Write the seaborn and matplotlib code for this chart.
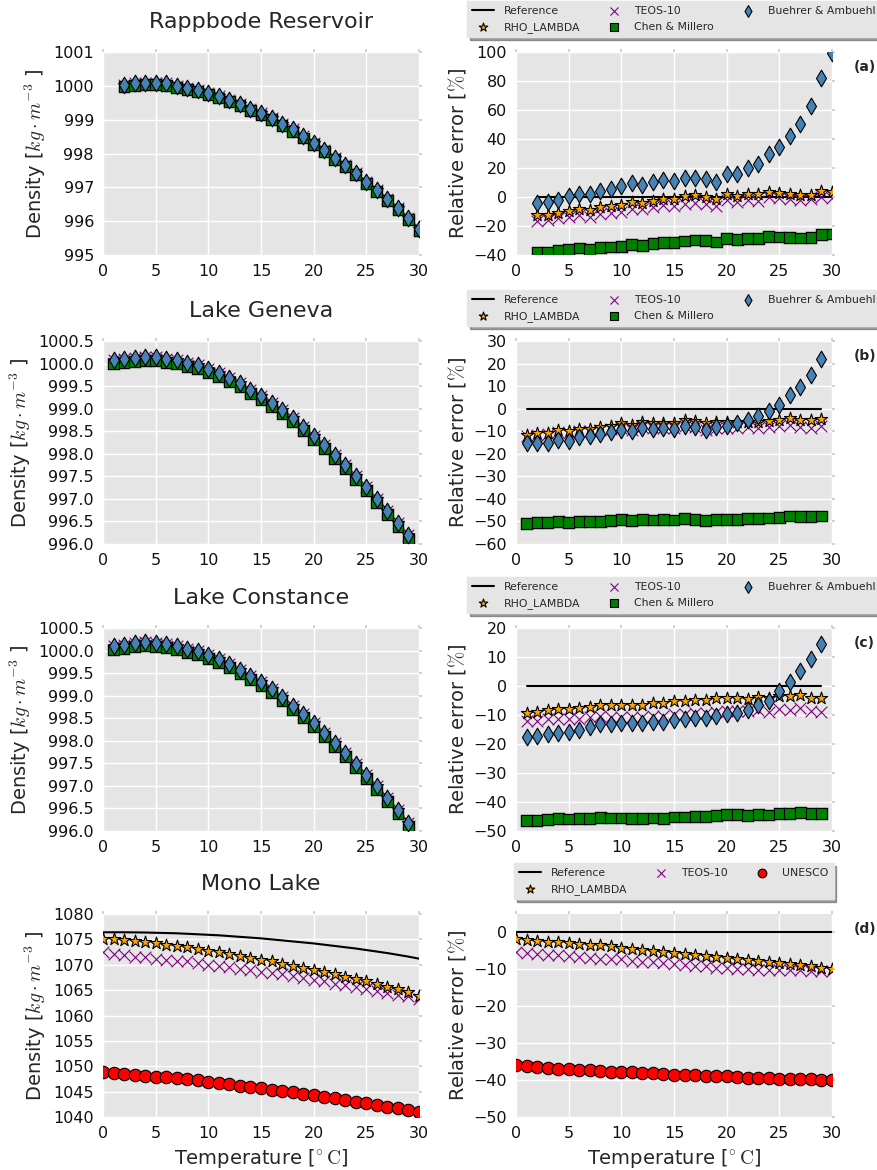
import matplotlib
matplotlib.use("Agg")
import matplotlib.pyplot as plt
import matplotlib.patheffects as pe
import seaborn as sns

# temperature axes [deg C]
temp_rappbode = list(range(2, 31))
temp_lakes = list(range(1, 30))
temp_mono = list(range(0, 31))

# ---- density [kg m-3] ----
# upper cluster (Reference / RHO_LAMBDA / TEOS-10 / Buehrer & Ambuehl overlap)
rappbode_rho = [1000.03, 1000.07, 1000.09, 1000.09, 1000.07, 1000.00, 999.95, 999.88, 999.80, 999.69,
                999.58, 999.47, 999.32, 999.19, 999.05, 998.87, 998.71, 998.51, 998.31, 998.10,
                997.88, 997.66, 997.42, 997.17, 996.92, 996.66, 996.39, 996.09, 995.78]
rappbode_rho_cm = [999.98, 1000.02, 1000.04, 1000.04, 1000.02, 999.95, 999.90, 999.83, 999.75, 999.64,
                   999.53, 999.42, 999.27, 999.14, 999.00, 998.82, 998.66, 998.46, 998.26, 998.05,
                   997.83, 997.61, 997.37, 997.12, 996.87, 996.61, 996.34, 996.04, 995.73]

geneva_rho = [1000.07, 1000.09, 1000.13, 1000.14, 1000.14, 1000.11, 1000.07, 1000.02, 999.96, 999.87,
              999.78, 999.67, 999.56, 999.42, 999.28, 999.13, 998.96, 998.79, 998.60, 998.40,
              998.20, 997.97, 997.75, 997.51, 997.26, 997.00, 996.74, 996.47, 996.19]
geneva_rho_cm = [999.99, 1000.01, 1000.05, 1000.06, 1000.06, 1000.03, 999.99, 999.94, 999.88, 999.79,
                 999.70, 999.59, 999.48, 999.34, 999.20, 999.05, 998.88, 998.71, 998.52, 998.32,
                 998.12, 997.89, 997.67, 997.43, 997.18, 996.92, 996.66, 996.39, 996.11]

constance_rho = [1000.09, 1000.13, 1000.16, 1000.18, 1000.17, 1000.15, 1000.09, 1000.04, 999.99, 999.90,
                 999.81, 999.71, 999.57, 999.44, 999.31, 999.15, 998.98, 998.78, 998.60, 998.39,
                 998.18, 997.96, 997.73, 997.49, 997.25, 996.99, 996.73, 996.46, 996.18]
constance_rho_cm = [1000.01, 1000.05, 1000.08, 1000.10, 1000.09, 1000.07, 1000.01, 999.96, 999.91, 999.82,
                    999.73, 999.63, 999.49, 999.36, 999.23, 999.07, 998.90, 998.70, 998.52, 998.31,
                    998.10, 997.88, 997.65, 997.41, 997.17, 996.91, 996.65, 996.38, 996.10]

mono_rho_ref = [1076.40, 1076.40, 1076.40, 1076.38, 1076.35, 1076.30, 1076.25, 1076.20, 1076.10, 1076.00,
                1075.90, 1075.80, 1075.65, 1075.50, 1075.35, 1075.20, 1075.00, 1074.80, 1074.60, 1074.40,
                1074.20, 1073.95, 1073.70, 1073.45, 1073.20, 1072.90, 1072.60, 1072.30, 1071.95, 1071.60,
                1071.20]
mono_rho_rl = [1075.1, 1075.0, 1074.8, 1074.6, 1074.45, 1074.2, 1073.9, 1073.65, 1073.4, 1073.1,
               1072.8, 1072.5, 1072.2, 1071.8, 1071.3, 1071.0, 1070.7, 1070.2, 1069.8, 1069.4,
               1069.0, 1068.6, 1068.1, 1067.6, 1067.1, 1066.7, 1066.2, 1065.6, 1065.2, 1064.6,
               1063.9]
mono_rho_teos = [1072.5, 1072.2, 1072.0, 1071.6, 1071.5, 1071.2, 1071.0, 1070.8, 1070.65, 1070.3,
                 1070.0, 1069.7, 1069.5, 1069.2, 1068.9, 1068.6, 1068.3, 1068.1, 1067.7, 1067.4,
                 1066.9, 1066.7, 1066.3, 1066.0, 1065.6, 1065.2, 1064.9, 1064.5, 1064.1, 1063.8,
                 1063.3]
mono_rho_unesco = [1048.8, 1048.6, 1048.5, 1048.3, 1048.1, 1047.9, 1047.8, 1047.6, 1047.4, 1047.2,
                   1046.9, 1046.7, 1046.5, 1046.2, 1045.95, 1045.7, 1045.4, 1045.2, 1044.85, 1044.6,
                   1044.25, 1043.9, 1043.7, 1043.3, 1043.0, 1042.7, 1042.35, 1042.0, 1041.7, 1041.35,
                   1041.0]

# ---- relative error [%] ----
rappbode_err_rl = [-12.6, -12.4, -11.0, -9.4, -8.0, -9.0, -7.1, -6.0, -5.3, -3.7,
                   -4.4, -2.5, -1.6, -1.6, 0.5, 1.1, 0.2, -1.6, 2.1, 0.9,
                   2.1, 1.8, 3.7, 2.8, 2.1, 1.4, 1.6, 3.9, 3.4]
rappbode_err_teos = [-16.3, -15.9, -14.5, -13.6, -12.2, -14.0, -11.7, -11.0, -10.6, -8.0,
                     -8.3, -7.1, -5.7, -6.2, -4.6, -3.9, -4.8, -6.0, -2.1, -3.4,
                     -2.3, -2.5, 0.0, -0.9, -1.6, -2.3, -1.6, -0.2, -0.7]
rappbode_err_cm = [-38.2, -37.9, -36.8, -36.1, -35.2, -36.1, -34.9, -34.5, -34.3, -32.6,
                   -33.3, -32.0, -31.3, -31.3, -30.3, -29.7, -30.1, -31.0, -28.7, -29.4,
                   -28.7, -28.7, -27.1, -27.6, -27.8, -28.3, -28.0, -26.0, -25.5]
rappbode_err_ba = [-4.1, -3.7, -2.3, 0.5, 2.1, 2.3, 4.1, 5.3, 7.4, 9.9,
                   8.5, 10.3, 11.5, 11.3, 13.1, 13.1, 12.4, 10.3, 15.6, 16.1,
                   20.0, 22.8, 29.4, 34.5, 42.3, 50.3, 62.5, 82.0, 99.0]

geneva_err_rl = [-11.5, -10.9, -10.6, -9.4, -10.1, -8.8, -9.0, -8.2, -7.5, -6.3,
                 -7.4, -5.9, -6.3, -6.2, -6.3, -5.1, -5.6, -6.5, -5.9, -5.7,
                 -5.9, -5.7, -5.9, -5.3, -4.9, -4.3, -4.9, -5.1, -4.6]
geneva_err_teos = [-12.1, -11.6, -11.3, -10.4, -10.9, -9.9, -10.1, -9.4, -8.8, -8.4,
                   -9.3, -8.2, -8.5, -8.4, -8.7, -7.8, -8.1, -9.3, -8.7, -8.4,
                   -8.4, -8.2, -8.5, -8.1, -7.8, -7.2, -8.1, -8.4, -7.8]
geneva_err_cm = [-50.9, -50.4, -50.4, -50.0, -50.6, -50.0, -50.1, -50.0, -49.7, -49.1,
                 -49.7, -49.1, -49.4, -49.3, -49.4, -48.8, -49.1, -49.7, -49.3, -49.1,
                 -49.0, -48.7, -48.8, -48.5, -48.2, -47.6, -47.9, -47.9, -47.6]
geneva_err_ba = [-15.4, -15.1, -15.1, -13.7, -14.3, -12.6, -12.1, -11.3, -10.4, -9.3,
                 -10.0, -8.5, -8.8, -8.5, -8.8, -7.5, -8.1, -9.3, -8.2, -7.6,
                 -6.5, -5.0, -3.4, -1.0, 1.8, 6.0, 9.7, 14.9, 21.8]

constance_err_rl = [-9.4, -9.1, -8.4, -8.0, -7.8, -7.7, -7.4, -6.5, -6.4, -6.4,
                    -6.4, -6.4, -5.8, -5.8, -5.1, -5.1, -4.7, -4.7, -4.2, -4.2,
                    -4.3, -4.4, -3.8, -4.0, -3.6, -3.6, -3.2, -4.0, -4.2]
constance_err_teos = [-11.9, -11.9, -11.5, -11.3, -11.4, -11.5, -10.8, -10.2, -10.6, -10.6,
                      -10.6, -10.8, -10.3, -10.5, -9.7, -9.7, -9.2, -9.2, -8.8, -8.5,
                      -8.5, -8.6, -8.3, -8.8, -8.0, -8.2, -7.7, -8.5, -8.8]
constance_err_cm = [-46.4, -46.3, -46.0, -45.8, -45.9, -45.8, -45.8, -45.3, -45.5, -45.5,
                    -45.6, -45.7, -45.5, -45.6, -45.2, -45.2, -44.9, -44.9, -44.7, -44.4,
                    -44.4, -44.7, -44.2, -44.5, -43.9, -44.0, -43.5, -43.9, -43.9]
constance_err_ba = [-17.6, -17.4, -16.7, -16.1, -15.8, -15.0, -14.3, -13.1, -13.0, -12.6,
                    -12.6, -12.7, -12.3, -12.4, -11.6, -11.5, -11.0, -11.0, -10.3, -9.7,
                    -9.3, -8.4, -6.5, -5.1, -1.7, 1.4, 5.3, 9.3, 14.4]

mono_err_rl = [-1.8, -2.1, -2.3, -2.5, -2.6, -2.9, -3.1, -3.3, -3.5, -3.8,
               -4.2, -4.6, -4.8, -5.1, -5.4, -5.5, -5.9, -6.2, -6.3, -6.6,
               -6.9, -7.1, -7.5, -7.7, -7.9, -8.2, -8.5, -8.8, -9.0, -9.5,
               -9.9]
mono_err_teos = [-5.4, -5.6, -5.9, -6.0, -6.2, -6.3, -6.7, -6.9, -7.1, -7.2,
                 -7.3, -7.6, -7.9, -8.0, -8.3, -8.6, -8.75, -9.0, -9.2, -9.5,
                 -9.7, -9.8, -10.0, -10.1, -10.1, -10.3, -10.3, -10.3, -10.4, -10.4,
                 -10.5]
mono_err_unesco = [-36.0, -36.2, -36.4, -36.7, -36.9, -37.1, -37.2, -37.3, -37.5, -37.7,
                   -37.8, -37.9, -38.0, -38.2, -38.3, -38.5, -38.6, -38.7, -38.8, -38.9,
                   -39.0, -39.2, -39.3, -39.4, -39.5, -39.6, -39.6, -39.7, -39.8, -39.9,
                   -40.0]

# marker styles for each model
STYLES = {
    "RHO_LAMBDA": dict(marker="*", color="orange", s=85, edgecolor="black", linewidth=0.8, zorder=4),
    "TEOS-10": dict(marker="x", color="purple", s=70, linewidth=0.8, zorder=3),
    "Chen & Millero": dict(marker="s", color="green", s=60, edgecolor="black", linewidth=0.8, zorder=5),
    "Buehrer & Ambuehl": dict(marker="d", color="steelblue", s=72, edgecolor="black", linewidth=0.8, zorder=6),
    "UNESCO": dict(marker="o", color="red", s=80, edgecolor="black", linewidth=0.8, zorder=5),
}
# the squares carry a soft grey rim in the original
HALO = [pe.Stroke(linewidth=2.2, foreground="#808080", alpha=0.35), pe.Normal()]

sns.set_theme(style="darkgrid", rc={
    "axes.facecolor": "#E5E5E5",
    "grid.color": "white",
    "grid.linewidth": 1.0,
    "axes.edgecolor": "#E5E5E5",
    "xtick.color": "#111111",
    "ytick.color": "#111111",
    "mathtext.fontset": "cm",
})
plt.rcParams["font.family"] = ["DejaVu Sans"]

fig = plt.figure(figsize=(8.77, 11.70), dpi=100)

W, H = 877.0, 1170.0
LEFT_X, RIGHT_X, AX_W, AX_H = 103, 516, 316, 203
ROW_BOTTOMS = [255, 544, 831, 1117]


def make_axes(x_px, bottom_px):
    return fig.add_axes([x_px / W, 1 - bottom_px / H, AX_W / W, AX_H / H])


def style_axes(ax, ylim, yticks):
    ax.set_xlim(0, 30)
    ax.set_xticks(range(0, 31, 5))
    ax.set_ylim(*ylim)
    ax.set_yticks(yticks)
    for sp in ax.spines.values():
        sp.set_visible(False)
    ax.tick_params(labelsize=11.5, left=False, bottom=False, right=True, top=True,
                   direction="out", length=2.5, color="#cccccc", pad=4)


def draw(ax, t, ref, series):
    sns.lineplot(x=t, y=ref, ax=ax, color="black", linewidth=1.5, label="Reference",
                 legend=False, zorder=2)
    for name, vals in series:
        sns.scatterplot(x=t, y=vals, ax=ax, label=name, legend=False, **STYLES[name])
        if name == "Chen & Millero":
            ax.collections[-1].set_path_effects(HALO)


def add_legend(ax):
    handles, labels = ax.get_legend_handles_labels()
    leg = ax.legend(handles, labels, ncol=3, fontsize=7.8, loc="lower center",
                    bbox_to_anchor=(0.5, 1.045), frameon=True, fancybox=False, shadow=True,
                    facecolor="#E5E5E5", edgecolor="#E5E5E5", framealpha=1,
                    scatterpoints=1, markerscale=0.7, handlelength=2.0, columnspacing=2.1,
                    borderpad=0.45, labelspacing=0.55, handletextpad=0.9)
    for h in leg.legend_handles:
        h.set_path_effects([])
    return leg


rho_label = r"Density [$kg \cdot m^{-3}$ ]"
err_label = r"Relative error [$\%$]"
t_label = r"Temperature [$^{\circ}\,\mathrm{C}$]"
lake_rows = [
    ("Rappbode Reservoir", "(a)", temp_rappbode, rappbode_rho, rappbode_rho_cm,
     [rappbode_err_rl, rappbode_err_teos, rappbode_err_cm, rappbode_err_ba],
     (995, 1001), list(range(995, 1002)), (-40, 100), list(range(-40, 101, 20))),
    ("Lake Geneva", "(b)", temp_lakes, geneva_rho, geneva_rho_cm,
     [geneva_err_rl, geneva_err_teos, geneva_err_cm, geneva_err_ba],
     (996, 1000.5), [996 + 0.5 * i for i in range(10)], (-60, 30), list(range(-60, 31, 10))),
    ("Lake Constance", "(c)", temp_lakes, constance_rho, constance_rho_cm,
     [constance_err_rl, constance_err_teos, constance_err_cm, constance_err_ba],
     (996, 1000.5), [996 + 0.5 * i for i in range(10)], (-50, 20), list(range(-50, 21, 10))),
]

for i, (title, tag, t, rho, rho_cm, errs, ylim_l, yt_l, ylim_r, yt_r) in enumerate(lake_rows):
    axl = make_axes(LEFT_X, ROW_BOTTOMS[i])
    draw(axl, t, rho, [("RHO_LAMBDA", rho), ("TEOS-10", rho),
                       ("Chen & Millero", rho_cm), ("Buehrer & Ambuehl", rho)])
    style_axes(axl, ylim_l, yt_l)
    if isinstance(yt_l[1], float):
        axl.set_yticklabels([f"{v:.1f}" for v in yt_l])
    axl.set_title(title, fontsize=16, pad=17.5)
    axl.set_ylabel(rho_label, fontsize=14)

    axr = make_axes(RIGHT_X, ROW_BOTTOMS[i])
    draw(axr, t, [0] * len(t), [("RHO_LAMBDA", errs[0]), ("TEOS-10", errs[1]),
                                ("Chen & Millero", errs[2]), ("Buehrer & Ambuehl", errs[3])])
    style_axes(axr, ylim_r, yt_r)
    axr.set_ylabel(err_label, fontsize=14)
    add_legend(axr)
    axr.text(1.07, 0.905, tag, transform=axr.transAxes, fontsize=10, fontweight="bold")

# Mono Lake
axl = make_axes(LEFT_X, ROW_BOTTOMS[3])
draw(axl, temp_mono, mono_rho_ref, [("RHO_LAMBDA", mono_rho_rl), ("TEOS-10", mono_rho_teos),
                                    ("UNESCO", mono_rho_unesco)])
style_axes(axl, (1040, 1080), list(range(1040, 1081, 5)))
axl.set_title("Mono Lake", fontsize=16, pad=17.5)
axl.set_ylabel(rho_label, fontsize=14)
axl.set_xlabel(t_label, fontsize=14)

axr = make_axes(RIGHT_X, ROW_BOTTOMS[3])
draw(axr, temp_mono, [0] * len(temp_mono), [("RHO_LAMBDA", mono_err_rl), ("TEOS-10", mono_err_teos),
                                              ("UNESCO", mono_err_unesco)])
style_axes(axr, (-50, 5), list(range(-50, 1, 10)))
axr.set_ylabel(err_label, fontsize=14)
axr.set_xlabel(t_label, fontsize=14)
add_legend(axr)
axr.text(1.07, 0.905, "(d)", transform=axr.transAxes, fontsize=10, fontweight="bold")

fig.savefig("out.png", dpi=100)
